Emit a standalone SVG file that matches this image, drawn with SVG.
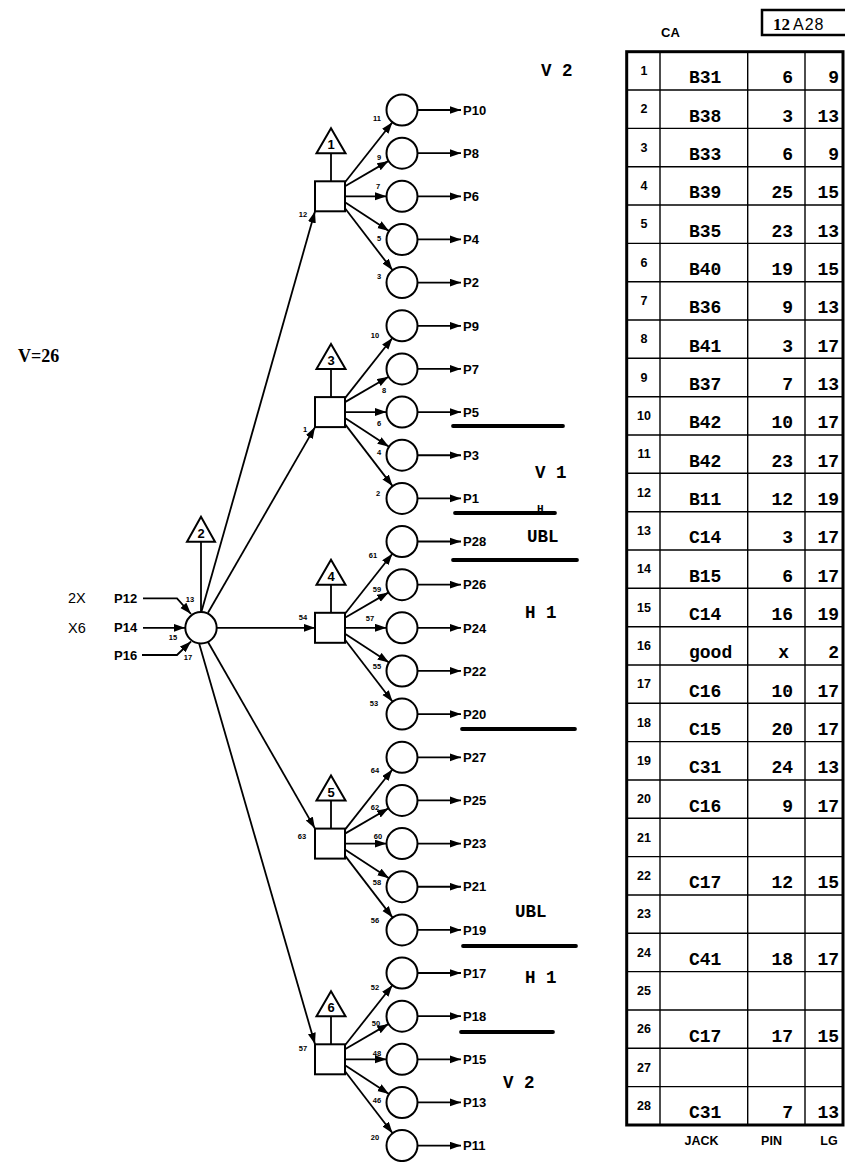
<svg xmlns="http://www.w3.org/2000/svg" width="845" height="1162" viewBox="0 0 845 1162">
<defs>
<marker id="ah" markerUnits="userSpaceOnUse" markerWidth="13" markerHeight="9" refX="11.5" refY="4" orient="auto">
<path d="M0,0 L11.5,4 L0,8 z" fill="#000"/>
</marker>
<style>
.ln{stroke:#000;stroke-width:1.8;fill:none}
.ar{marker-end:url(#ah)}
.nd{fill:#fff;stroke:#000;stroke-width:2}
.pl{font:bold 13px "Liberation Sans",Arial,sans-serif}
.pt{font:bold 7.5px "Liberation Sans",Arial,sans-serif;text-anchor:middle}
.tr{font:bold 13px "Liberation Sans",Arial,sans-serif;text-anchor:middle}
.cl{font:bold 18px "Liberation Mono","Courier New",monospace}
.r{text-anchor:end}
.nm{font:bold 12.5px "Liberation Sans",Arial,sans-serif;text-anchor:middle}
.an{font:bold 17.5px "Liberation Mono","Courier New",monospace}
.st{stroke:#000;stroke-width:3.8;stroke-linecap:round}
.tl{stroke:#000;stroke-width:1.4}
.ft{font:bold 12.5px "Liberation Sans",Arial,sans-serif;text-anchor:middle}
</style>
</defs>
<rect width="845" height="1162" fill="#fff"/>

<text x="18" y="362" style="font:bold 18px 'Liberation Serif',serif">V=26</text>
<text x="68" y="603" style="font:14.5px 'Liberation Sans',Arial,sans-serif">2X</text>
<text x="68" y="633" style="font:14.5px 'Liberation Sans',Arial,sans-serif">X6</text>

<g id="connectors">
  <path class="ln ar" d="M143,598.3 L177,598.3 L191,614"/>
  <path class="ln ar" d="M143,627.8 L185,627.8"/>
  <path class="ln ar" d="M142,655 L177,655 L191,641.5"/>
  <path class="ln ar" d="M201.5,611.5 L315,211.3"/>
  <path class="ln ar" d="M208,612.8 L315,427.1"/>
  <path class="ln ar" d="M216.7,627.8 L315,627.8"/>
  <path class="ln ar" d="M208,642 L315,828.6"/>
  <path class="ln ar" d="M199,643 L315,1044.3"/>
  <g id="fan1" transform="translate(0,196.3)">
    <path class="ln ar" d="M345,-14 L392.4,-74.1"/><path class="ln ar" d="M345,-10 L388.6,-35.4"/><path class="ln ar" d="M345,0 L386.5,0"/><path class="ln ar" d="M345,6 L389,34.7"/><path class="ln ar" d="M345,12 L392.6,74"/>
    <path class="ln ar" d="M417.5,-86.3 L461,-86.3"/><path class="ln ar" d="M417.5,-43.15 L461,-43.15"/><path class="ln ar" d="M417.5,0 L461,0"/><path class="ln ar" d="M417.5,43.15 L461,43.15"/><path class="ln ar" d="M417.5,86.3 L461,86.3"/>
  </g>
  <g id="fan3" transform="translate(0,412.1)">
    <path class="ln ar" d="M345,-14 L392.4,-74.1"/><path class="ln ar" d="M345,-10 L388.6,-35.4"/><path class="ln ar" d="M345,0 L386.5,0"/><path class="ln ar" d="M345,6 L389,34.7"/><path class="ln ar" d="M345,12 L392.6,74"/>
    <path class="ln ar" d="M417.5,-86.3 L461,-86.3"/><path class="ln ar" d="M417.5,-43.15 L461,-43.15"/><path class="ln ar" d="M417.5,0 L461,0"/><path class="ln ar" d="M417.5,43.15 L461,43.15"/><path class="ln ar" d="M417.5,86.3 L461,86.3"/>
  </g>
  <g id="fan4" transform="translate(0,627.8)">
    <path class="ln ar" d="M345,-14 L392.4,-74.1"/><path class="ln ar" d="M345,-10 L388.6,-35.4"/><path class="ln ar" d="M345,0 L386.5,0"/><path class="ln ar" d="M345,6 L389,34.7"/><path class="ln ar" d="M345,12 L392.6,74"/>
    <path class="ln ar" d="M417.5,-86.3 L461,-86.3"/><path class="ln ar" d="M417.5,-43.15 L461,-43.15"/><path class="ln ar" d="M417.5,0 L461,0"/><path class="ln ar" d="M417.5,43.15 L461,43.15"/><path class="ln ar" d="M417.5,86.3 L461,86.3"/>
  </g>
  <g id="fan5" transform="translate(0,843.6)">
    <path class="ln ar" d="M345,-14 L392.4,-74.1"/><path class="ln ar" d="M345,-10 L388.6,-35.4"/><path class="ln ar" d="M345,0 L386.5,0"/><path class="ln ar" d="M345,6 L389,34.7"/><path class="ln ar" d="M345,12 L392.6,74"/>
    <path class="ln ar" d="M417.5,-86.3 L461,-86.3"/><path class="ln ar" d="M417.5,-43.15 L461,-43.15"/><path class="ln ar" d="M417.5,0 L461,0"/><path class="ln ar" d="M417.5,43.15 L461,43.15"/><path class="ln ar" d="M417.5,86.3 L461,86.3"/>
  </g>
  <g id="fan6" transform="translate(0,1059.3)">
    <path class="ln ar" d="M345,-14 L392.4,-74.1"/><path class="ln ar" d="M345,-10 L388.6,-35.4"/><path class="ln ar" d="M345,0 L386.5,0"/><path class="ln ar" d="M345,6 L389,34.7"/><path class="ln ar" d="M345,12 L392.6,74"/>
    <path class="ln ar" d="M417.5,-86.3 L461,-86.3"/><path class="ln ar" d="M417.5,-43.15 L461,-43.15"/><path class="ln ar" d="M417.5,0 L461,0"/><path class="ln ar" d="M417.5,43.15 L461,43.15"/><path class="ln ar" d="M417.5,86.3 L461,86.3"/>
  </g>
</g>

<g id="inputs">
  <text class="pl" x="114" y="603">P12</text>
  <text class="pl" x="114" y="632">P14</text>
  <text class="pl" x="114" y="660">P16</text>
  <text class="pt" x="190" y="601.7">13</text>
  <text class="pt" x="173" y="639.7">15</text>
  <text class="pt" x="188" y="659.7">17</text>
</g>

<g id="node2">
  <polygon class="nd" points="201,516.7 187,541.7 215,541.7"/>
  <line class="ln" x1="201" y1="541.7" x2="201" y2="612"/>
  <text class="tr" x="201" y="538">2</text>
  <circle class="nd" cx="201" cy="627.8" r="15.7"/>
</g>

<g id="node1">
  <polygon class="nd" points="331,128.3 316.5,153.3 345.5,153.3"/>
  <line class="ln" x1="331" y1="153.3" x2="331" y2="181.3"/>
  <text class="tr" x="331" y="149.3">1</text>
  <rect class="nd" x="315" y="181.3" width="30" height="30"/>
  <text class="pt" x="303" y="216.7">12</text>
  <text class="pt" x="377" y="120.7">11</text><text class="pt" x="379" y="159.7">9</text><text class="pt" x="378" y="188.7">7</text><text class="pt" x="379" y="240.7">5</text><text class="pt" x="379" y="278.7">3</text>
</g>
<g id="node3">
  <polygon class="nd" points="331,344.1 316.5,369.1 345.5,369.1"/>
  <line class="ln" x1="331" y1="369.1" x2="331" y2="397.1"/>
  <text class="tr" x="331" y="365.1">3</text>
  <rect class="nd" x="315" y="397.1" width="30" height="30"/>
  <text class="pt" x="305" y="431.7">1</text>
  <text class="pt" x="375" y="337.7">10</text><text class="pt" x="384" y="392.7">8</text><text class="pt" x="379" y="425.7">6</text><text class="pt" x="379" y="454.7">4</text><text class="pt" x="378" y="495.7">2</text>
</g>
<g id="node4">
  <polygon class="nd" points="331,559.8 316.5,584.8 345.5,584.8"/>
  <line class="ln" x1="331" y1="584.8" x2="331" y2="612.8"/>
  <text class="tr" x="331" y="580.8">4</text>
  <rect class="nd" x="315" y="612.8" width="30" height="30"/>
  <text class="pt" x="303" y="619.7">54</text>
  <text class="pt" x="373" y="557.7">61</text><text class="pt" x="377" y="591.7">59</text><text class="pt" x="370" y="620.7">57</text><text class="pt" x="377" y="668.7">55</text><text class="pt" x="374" y="705.7">53</text>
</g>
<g id="node5">
  <polygon class="nd" points="331,775.6 316.5,800.6 345.5,800.6"/>
  <line class="ln" x1="331" y1="800.6" x2="331" y2="828.6"/>
  <text class="tr" x="331" y="796.6">5</text>
  <rect class="nd" x="315" y="828.6" width="30" height="30"/>
  <text class="pt" x="302" y="838.7">63</text>
  <text class="pt" x="375" y="772.7">64</text><text class="pt" x="375" y="809.7">62</text><text class="pt" x="378" y="838.7">60</text><text class="pt" x="377" y="884.7">58</text><text class="pt" x="375" y="922.7">56</text>
</g>
<g id="node6">
  <polygon class="nd" points="331,991.3 316.5,1016.3 345.5,1016.3"/>
  <line class="ln" x1="331" y1="1016.3" x2="331" y2="1044.3"/>
  <text class="tr" x="331" y="1012.3">6</text>
  <rect class="nd" x="315" y="1044.3" width="30" height="30"/>
  <text class="pt" x="303" y="1050.7">57</text>
  <text class="pt" x="375" y="989.7">52</text><text class="pt" x="376" y="1025.7">50</text><text class="pt" x="377" y="1055.7">48</text><text class="pt" x="377" y="1102.7">46</text><text class="pt" x="375" y="1139.7">20</text>
</g>

<g id="outputs">
  <g id="o-P10"><circle class="nd" cx="402" cy="110" r="15.5"/><text class="pl" x="463" y="114.7">P10</text></g>
  <g id="o-P8"><circle class="nd" cx="402" cy="153.2" r="15.5"/><text class="pl" x="463" y="157.9">P8</text></g>
  <g id="o-P6"><circle class="nd" cx="402" cy="196.3" r="15.5"/><text class="pl" x="463" y="201">P6</text></g>
  <g id="o-P4"><circle class="nd" cx="402" cy="239.5" r="15.5"/><text class="pl" x="463" y="244.2">P4</text></g>
  <g id="o-P2"><circle class="nd" cx="402" cy="282.6" r="15.5"/><text class="pl" x="463" y="287.3">P2</text></g>
  <g id="o-P9"><circle class="nd" cx="402" cy="325.8" r="15.5"/><text class="pl" x="463" y="330.5">P9</text></g>
  <g id="o-P7"><circle class="nd" cx="402" cy="368.9" r="15.5"/><text class="pl" x="463" y="373.6">P7</text></g>
  <g id="o-P5"><circle class="nd" cx="402" cy="412.1" r="15.5"/><text class="pl" x="463" y="416.8">P5</text></g>
  <g id="o-P3"><circle class="nd" cx="402" cy="455.2" r="15.5"/><text class="pl" x="463" y="459.9">P3</text></g>
  <g id="o-P1"><circle class="nd" cx="402" cy="498.4" r="15.5"/><text class="pl" x="463" y="503.1">P1</text></g>
  <g id="o-P28"><circle class="nd" cx="402" cy="541.5" r="15.5"/><text class="pl" x="463" y="546.2">P28</text></g>
  <g id="o-P26"><circle class="nd" cx="402" cy="584.7" r="15.5"/><text class="pl" x="463" y="589.4">P26</text></g>
  <g id="o-P24"><circle class="nd" cx="402" cy="627.8" r="15.5"/><text class="pl" x="463" y="632.5">P24</text></g>
  <g id="o-P22"><circle class="nd" cx="402" cy="671" r="15.5"/><text class="pl" x="463" y="675.7">P22</text></g>
  <g id="o-P20"><circle class="nd" cx="402" cy="714.1" r="15.5"/><text class="pl" x="463" y="718.8">P20</text></g>
  <g id="o-P27"><circle class="nd" cx="402" cy="757.3" r="15.5"/><text class="pl" x="463" y="762">P27</text></g>
  <g id="o-P25"><circle class="nd" cx="402" cy="800.4" r="15.5"/><text class="pl" x="463" y="805.1">P25</text></g>
  <g id="o-P23"><circle class="nd" cx="402" cy="843.6" r="15.5"/><text class="pl" x="463" y="848.3">P23</text></g>
  <g id="o-P21"><circle class="nd" cx="402" cy="886.7" r="15.5"/><text class="pl" x="463" y="891.4">P21</text></g>
  <g id="o-P19"><circle class="nd" cx="402" cy="929.9" r="15.5"/><text class="pl" x="463" y="934.6">P19</text></g>
  <g id="o-P17"><circle class="nd" cx="402" cy="973" r="15.5"/><text class="pl" x="463" y="977.7">P17</text></g>
  <g id="o-P18"><circle class="nd" cx="402" cy="1016.2" r="15.5"/><text class="pl" x="463" y="1020.9">P18</text></g>
  <g id="o-P15"><circle class="nd" cx="402" cy="1059.3" r="15.5"/><text class="pl" x="463" y="1064">P15</text></g>
  <g id="o-P13"><circle class="nd" cx="402" cy="1102.5" r="15.5"/><text class="pl" x="463" y="1107.2">P13</text></g>
  <g id="o-P11"><circle class="nd" cx="402" cy="1145.6" r="15.5"/><text class="pl" x="463" y="1150.3">P11</text></g>
</g>

<g id="annotations">
  <text class="an" x="541" y="76">V 2</text>
  <text class="an" x="535" y="478">V 1</text>
  <text x="537" y="512" style="font:bold 11px 'Liberation Mono',monospace">H</text>
  <text class="an" x="527" y="542">UBL</text>
  <text class="an" x="525" y="618">H 1</text>
  <text class="an" x="515" y="917">UBL</text>
  <text class="an" x="525" y="983">H 1</text>
  <text class="an" x="503" y="1088">V 2</text>
  <line class="st" x1="453" y1="426" x2="563" y2="426"/>
  <line class="st" x1="455" y1="513" x2="555" y2="513"/>
  <line class="st" x1="453" y1="560" x2="577" y2="560"/>
  <line class="st" x1="462" y1="729" x2="575" y2="729"/>
  <line class="st" x1="463" y1="946" x2="576" y2="946"/>
  <line class="st" x1="461" y1="1032" x2="553" y2="1032"/>
</g>

<g id="table">
  <text x="661" y="37" style="font:bold 13px 'Liberation Sans',Arial,sans-serif">CA</text>
  <rect x="762" y="10" width="90" height="25" fill="none" stroke="#000" stroke-width="2.5"/>
  <text x="773" y="30" style="font:bold 17px 'Liberation Serif',serif">12</text>
  <text x="793" y="30" style="font:16px 'Liberation Sans',Arial,sans-serif;letter-spacing:1px">A28</text>
  <g id="grid">
    <line class="tl" x1="660" y1="51.7" x2="660" y2="1125"/>
    <line class="tl" x1="747.7" y1="51.7" x2="747.7" y2="1125"/>
    <line class="tl" x1="805" y1="51.7" x2="805" y2="1125"/>
    <line class="tl" x1="626.7" y1="90" x2="843" y2="90"/>
    <line class="tl" x1="626.7" y1="128.4" x2="843" y2="128.4"/>
    <line class="tl" x1="626.7" y1="166.7" x2="843" y2="166.7"/>
    <line class="tl" x1="626.7" y1="205" x2="843" y2="205"/>
    <line class="tl" x1="626.7" y1="243.4" x2="843" y2="243.4"/>
    <line class="tl" x1="626.7" y1="281.7" x2="843" y2="281.7"/>
    <line class="tl" x1="626.7" y1="320" x2="843" y2="320"/>
    <line class="tl" x1="626.7" y1="358.3" x2="843" y2="358.3"/>
    <line class="tl" x1="626.7" y1="396.7" x2="843" y2="396.7"/>
    <line class="tl" x1="626.7" y1="435" x2="843" y2="435"/>
    <line class="tl" x1="626.7" y1="473.3" x2="843" y2="473.3"/>
    <line class="tl" x1="626.7" y1="511.7" x2="843" y2="511.7"/>
    <line class="tl" x1="626.7" y1="550" x2="843" y2="550"/>
    <line class="tl" x1="626.7" y1="588.3" x2="843" y2="588.3"/>
    <line class="tl" x1="626.7" y1="626.7" x2="843" y2="626.7"/>
    <line class="tl" x1="626.7" y1="665" x2="843" y2="665"/>
    <line class="tl" x1="626.7" y1="703.3" x2="843" y2="703.3"/>
    <line class="tl" x1="626.7" y1="741.6" x2="843" y2="741.6"/>
    <line class="tl" x1="626.7" y1="780" x2="843" y2="780"/>
    <line class="tl" x1="626.7" y1="818.3" x2="843" y2="818.3"/>
    <line class="tl" x1="626.7" y1="856.6" x2="843" y2="856.6"/>
    <line class="tl" x1="626.7" y1="895" x2="843" y2="895"/>
    <line class="tl" x1="626.7" y1="933.3" x2="843" y2="933.3"/>
    <line class="tl" x1="626.7" y1="971.6" x2="843" y2="971.6"/>
    <line class="tl" x1="626.7" y1="1010" x2="843" y2="1010"/>
    <line class="tl" x1="626.7" y1="1048.3" x2="843" y2="1048.3"/>
    <line class="tl" x1="626.7" y1="1086.6" x2="843" y2="1086.6"/>
    <rect x="626.7" y="51.7" width="216.3" height="1073.3" fill="none" stroke="#000" stroke-width="3"/>
  </g>
  <g id="rows">
    <text class="nm" x="644" y="75">1</text><text class="cl" x="689" y="83.3">B31</text><text class="cl r" x="793" y="83.3">6</text><text class="cl r" x="839" y="83.3">9</text>
    <text class="nm" x="644" y="113.3">2</text><text class="cl" x="689" y="121.6">B38</text><text class="cl r" x="793" y="121.6">3</text><text class="cl r" x="839" y="121.6">13</text>
    <text class="nm" x="644" y="151.7">3</text><text class="cl" x="689" y="160">B33</text><text class="cl r" x="793" y="160">6</text><text class="cl r" x="839" y="160">9</text>
    <text class="nm" x="644" y="190">4</text><text class="cl" x="689" y="198.3">B39</text><text class="cl r" x="793" y="198.3">25</text><text class="cl r" x="839" y="198.3">15</text>
    <text class="nm" x="644" y="228.3">5</text><text class="cl" x="689" y="236.6">B35</text><text class="cl r" x="793" y="236.6">23</text><text class="cl r" x="839" y="236.6">13</text>
    <text class="nm" x="644" y="266.7">6</text><text class="cl" x="689" y="275">B40</text><text class="cl r" x="793" y="275">19</text><text class="cl r" x="839" y="275">15</text>
    <text class="nm" x="644" y="305">7</text><text class="cl" x="689" y="313.3">B36</text><text class="cl r" x="793" y="313.3">9</text><text class="cl r" x="839" y="313.3">13</text>
    <text class="nm" x="644" y="343.3">8</text><text class="cl" x="689" y="351.6">B41</text><text class="cl r" x="793" y="351.6">3</text><text class="cl r" x="839" y="351.6">17</text>
    <text class="nm" x="644" y="381.7">9</text><text class="cl" x="689" y="390">B37</text><text class="cl r" x="793" y="390">7</text><text class="cl r" x="839" y="390">13</text>
    <text class="nm" x="644" y="420">10</text><text class="cl" x="689" y="428.3">B42</text><text class="cl r" x="793" y="428.3">10</text><text class="cl r" x="839" y="428.3">17</text>
    <text class="nm" x="644" y="458.3">11</text><text class="cl" x="689" y="466.6">B42</text><text class="cl r" x="793" y="466.6">23</text><text class="cl r" x="839" y="466.6">17</text>
    <text class="nm" x="644" y="496.7">12</text><text class="cl" x="689" y="505">B11</text><text class="cl r" x="793" y="505">12</text><text class="cl r" x="839" y="505">19</text>
    <text class="nm" x="644" y="535">13</text><text class="cl" x="689" y="543.3">C14</text><text class="cl r" x="793" y="543.3">3</text><text class="cl r" x="839" y="543.3">17</text>
    <text class="nm" x="644" y="573.3">14</text><text class="cl" x="689" y="581.6">B15</text><text class="cl r" x="793" y="581.6">6</text><text class="cl r" x="839" y="581.6">17</text>
    <text class="nm" x="644" y="611.7">15</text><text class="cl" x="689" y="620">C14</text><text class="cl r" x="793" y="620">16</text><text class="cl r" x="839" y="620">19</text>
    <text class="nm" x="644" y="650">16</text><text class="cl" x="689" y="658.3">good</text><text class="cl r" x="789" y="658.3">x</text><text class="cl r" x="839" y="658.3">2</text>
    <text class="nm" x="644" y="688.3">17</text><text class="cl" x="689" y="696.6">C16</text><text class="cl r" x="793" y="696.6">10</text><text class="cl r" x="839" y="696.6">17</text>
    <text class="nm" x="644" y="726.6">18</text><text class="cl" x="689" y="735">C15</text><text class="cl r" x="793" y="735">20</text><text class="cl r" x="839" y="735">17</text>
    <text class="nm" x="644" y="765">19</text><text class="cl" x="689" y="773.3">C31</text><text class="cl r" x="793" y="773.3">24</text><text class="cl r" x="839" y="773.3">13</text>
    <text class="nm" x="644" y="803.3">20</text><text class="cl" x="689" y="811.6">C16</text><text class="cl r" x="793" y="811.6">9</text><text class="cl r" x="839" y="811.6">17</text>
    <text class="nm" x="644" y="841.6">21</text>
    <text class="nm" x="644" y="880">22</text><text class="cl" x="689" y="888.3">C17</text><text class="cl r" x="793" y="888.3">12</text><text class="cl r" x="839" y="888.3">15</text>
    <text class="nm" x="644" y="918.3">23</text>
    <text class="nm" x="644" y="956.6">24</text><text class="cl" x="689" y="965">C41</text><text class="cl r" x="793" y="965">18</text><text class="cl r" x="839" y="965">17</text>
    <text class="nm" x="644" y="995">25</text>
    <text class="nm" x="644" y="1033.3">26</text><text class="cl" x="689" y="1041.6">C17</text><text class="cl r" x="793" y="1041.6">17</text><text class="cl r" x="839" y="1041.6">15</text>
    <text class="nm" x="644" y="1071.6">27</text>
    <text class="nm" x="644" y="1110">28</text><text class="cl" x="689" y="1118.3">C31</text><text class="cl r" x="793" y="1118.3">7</text><text class="cl r" x="839" y="1118.3">13</text>
  </g>
  <text class="ft" x="701.5" y="1145">JACK</text>
  <text class="ft" x="771.5" y="1145">PIN</text>
  <text class="ft" x="829" y="1145">LG</text>
</g>
</svg>
